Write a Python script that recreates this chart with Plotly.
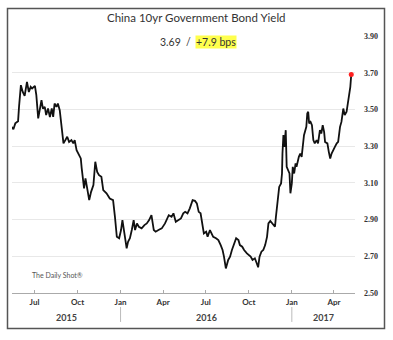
import plotly.graph_objects as go
import pandas as pd

# China 10-year government bond yield, %
dates = [
    "2015-05-13", "2015-05-17", "2015-05-21", "2015-05-25", "2015-05-27", "2015-05-29",
    "2015-06-02", "2015-06-06", "2015-06-10", "2015-06-15", "2015-06-19", "2015-06-23",
    "2015-06-26", "2015-07-02", "2015-07-05", "2015-07-09", "2015-07-13", "2015-07-16",
    "2015-07-19", "2015-07-23", "2015-07-26", "2015-07-30", "2015-08-03", "2015-08-07",
    "2015-08-10", "2015-08-13", "2015-08-17", "2015-08-20", "2015-08-24", "2015-08-29",
    "2015-09-01", "2015-09-05", "2015-09-09", "2015-09-13", "2015-09-18", "2015-09-22",
    "2015-09-25", "2015-09-29", "2015-10-04", "2015-10-08", "2015-10-10", "2015-10-15",
    "2015-10-18", "2015-10-22", "2015-10-26", "2015-10-30", "2015-11-04", "2015-11-08",
    "2015-11-12", "2015-11-16", "2015-11-21", "2015-11-25", "2015-12-02", "2015-12-09",
    "2015-12-16", "2015-12-20", "2015-12-24", "2015-12-29", "2016-01-02", "2016-01-05",
    "2016-01-09", "2016-01-14", "2016-01-17", "2016-01-21", "2016-01-25", "2016-01-29",
    "2016-02-01", "2016-02-05", "2016-02-09", "2016-02-15", "2016-02-21", "2016-02-26",
    "2016-03-02", "2016-03-07", "2016-03-12", "2016-03-16", "2016-03-22", "2016-03-29",
    "2016-04-05", "2016-04-08", "2016-04-13", "2016-04-19", "2016-04-23", "2016-04-28",
    "2016-05-03", "2016-05-09", "2016-05-14", "2016-05-18", "2016-05-23", "2016-05-28",
    "2016-06-03", "2016-06-08", "2016-06-12", "2016-06-16", "2016-06-20", "2016-06-23",
    "2016-06-27", "2016-07-02", "2016-07-05", "2016-07-10", "2016-07-14", "2016-07-17",
    "2016-07-23", "2016-07-28", "2016-08-02", "2016-08-06", "2016-08-09", "2016-08-13",
    "2016-08-18", "2016-08-22", "2016-08-26", "2016-08-31", "2016-09-04", "2016-09-09",
    "2016-09-12", "2016-09-17", "2016-09-21", "2016-09-27", "2016-10-01", "2016-10-05",
    "2016-10-09", "2016-10-14", "2016-10-18", "2016-10-21", "2016-10-24", "2016-10-28",
    "2016-11-01", "2016-11-05", "2016-11-09", "2016-11-12", "2016-11-16", "2016-11-22",
    "2016-11-26", "2016-11-28", "2016-11-30", "2016-12-03", "2016-12-05", "2016-12-09",
    "2016-12-11", "2016-12-12", "2016-12-14", "2016-12-16", "2016-12-19", "2016-12-21",
    "2016-12-24", "2016-12-27", "2016-12-29", "2017-01-01", "2017-01-03", "2017-01-06",
    "2017-01-09", "2017-01-11", "2017-01-16", "2017-01-19", "2017-01-22", "2017-01-25",
    "2017-01-27", "2017-02-01", "2017-02-03", "2017-02-05", "2017-02-07", "2017-02-10",
    "2017-02-13", "2017-02-16", "2017-02-19", "2017-02-23", "2017-02-26", "2017-03-02",
    "2017-03-05", "2017-03-08", "2017-03-11", "2017-03-13", "2017-03-18", "2017-03-21",
    "2017-03-24", "2017-03-27", "2017-03-31", "2017-04-03", "2017-04-07", "2017-04-10",
    "2017-04-14", "2017-04-17", "2017-04-21", "2017-04-24", "2017-04-28", "2017-05-01",
    "2017-05-03", "2017-05-06", "2017-05-08",
]
yields = [
    3.405, 3.392, 3.424, 3.432, 3.436, 3.514,
    3.632, 3.595, 3.574, 3.650, 3.595, 3.623,
    3.614, 3.628, 3.578, 3.451, 3.514, 3.550,
    3.505, 3.514, 3.469, 3.505, 3.459, 3.505,
    3.459, 3.532, 3.514, 3.532, 3.496, 3.396,
    3.315, 3.333, 3.351, 3.323, 3.333, 3.315,
    3.333, 3.278, 3.251, 3.233, 3.179, 3.070,
    3.124, 3.070, 3.006, 3.051, 3.088, 3.215,
    3.160, 3.142, 3.133, 3.061, 3.043, 3.015,
    3.006, 2.915, 2.806, 2.798, 2.843, 2.897,
    2.816, 2.743, 2.779, 2.798, 2.843, 2.897,
    2.843, 2.879, 2.861, 2.852, 2.870, 2.879,
    2.897, 2.924, 2.843, 2.834, 2.843, 2.852,
    2.879, 2.897, 2.924, 2.915, 2.934, 2.888,
    2.897, 2.906, 2.934, 2.942, 2.934, 2.961,
    3.006, 3.002, 2.988, 2.942, 2.934, 2.879,
    2.825, 2.834, 2.806, 2.843, 2.825, 2.806,
    2.798, 2.788, 2.761, 2.734, 2.698, 2.634,
    2.680, 2.698, 2.734, 2.770, 2.798, 2.788,
    2.761, 2.752, 2.734, 2.716, 2.707, 2.698,
    2.680, 2.689, 2.662, 2.640, 2.698, 2.725,
    2.734, 2.761, 2.806, 2.879, 2.893, 2.870,
    2.861, 2.915, 2.970, 3.033, 3.078, 3.097,
    3.151, 3.260, 3.360, 3.296, 3.387, 3.187,
    3.169, 3.151, 3.043, 3.097, 3.187, 3.151,
    3.206, 3.187, 3.242, 3.260, 3.242, 3.323,
    3.360, 3.405, 3.478, 3.487, 3.424, 3.432,
    3.414, 3.333, 3.315, 3.333, 3.315, 3.387,
    3.369, 3.414, 3.378, 3.323, 3.315, 3.269,
    3.233, 3.260, 3.287, 3.296, 3.315, 3.323,
    3.405, 3.432, 3.505, 3.469, 3.487, 3.532,
    3.568, 3.623, 3.69,
]

title_text = "China 10yr Government Bond Yield"
last_value_text = "3.69"
change_text = "+7.9 bps"
source_text = "The Daily Shot®"
y_ticks = [2.5, 2.7, 2.9, 3.1, 3.3, 3.5, 3.7, 3.9]
years = ["2015", "2016", "2017"]
year_spans = [("2015-05-14", "2016-01-01"), ("2016-01-01", "2017-01-01"), ("2017-01-01", "2017-05-16")]
year_breaks = ["2016-01-01", "2017-01-01"]

# page geometry (pixels)
W, H = 393, 340
L, R, T, B = 12, 38, 35.5, 47
PW, PH = W - L - R, H - T - B


def px(x):
    return (x - L) / PW


def py(y):
    return (H - B - y) / PH


fig = go.Figure()
fig.add_trace(go.Scatter(
    x=dates, y=yields, mode="lines",
    line=dict(color="#111111", width=1.8),
    hoverinfo="skip", showlegend=False,
))
fig.add_trace(go.Scatter(
    x=[dates[-1]], y=[yields[-1]], mode="markers",
    marker=dict(color="#ff2020", size=5),
    hoverinfo="skip", showlegend=False,
))

shapes = []
# outer frame
shapes.append(dict(type="rect", xref="paper", yref="paper",
                   x0=px(7.5), x1=px(384.5), y0=py(328.5), y1=py(8),
                   line=dict(color="#555555", width=1.5), layer="above"))
# white gap in the top gridline behind the subtitle
shapes.append(dict(type="rect", xref="paper", yref="paper",
                   x0=px(145), x1=px(250), y0=py(38), y1=py(33),
                   fillcolor="white", line=dict(width=0), layer="above"))
# year separators
for d in year_breaks:
    shapes.append(dict(type="line", xref="x", yref="paper",
                       x0=d, x1=d, y0=py(307), y1=py(322),
                       line=dict(color="#bbbbbb", width=1)))

annotations = [
    dict(text=title_text, xref="paper", yref="paper", x=px(196.5), y=py(16.5),
         yanchor="middle", showarrow=False,
         font=dict(family="Lato", size=11.5, color="#333333")),
    dict(text=last_value_text + "  /", xref="paper", yref="paper", x=px(193), y=py(42),
         xanchor="right", yanchor="middle", showarrow=False,
         font=dict(family="Lato", size=10.5, color="#333333")),
    dict(text=change_text, xref="paper", yref="paper", x=px(195), y=py(42),
         xanchor="left", yanchor="middle", showarrow=False, bgcolor="#ffff4d", borderpad=0,
         font=dict(family="Lato", size=10.5, color="#333333")),
    dict(text=source_text, xref="paper", yref="paper", x=px(30), y=py(275),
         xanchor="left", yanchor="middle", showarrow=False,
         font=dict(family="Lato", size=7, color="#555555")),
]
for label, (a, b) in zip(years, year_spans):
    mid = pd.Timestamp(a) + (pd.Timestamp(b) - pd.Timestamp(a)) / 2
    annotations.append(dict(text="<b>" + label + "</b>", xref="x", yref="paper",
                            x=mid, y=py(318), yanchor="middle", showarrow=False,
                            font=dict(family="Lato", size=9, color="#444444")))

fig.update_layout(
    width=W, height=H,
    margin=dict(l=L, r=R, t=T, b=B, pad=0),
    paper_bgcolor="white", plot_bgcolor="white",
    shapes=shapes, annotations=annotations,
    xaxis=dict(
        range=["2015-05-14", "2017-05-16"],
        tick0="2015-07-01", dtick="M3", tickformat="%b",
        showgrid=False, zeroline=False,
        showline=True, linecolor="#aaaaaa", linewidth=1,
        ticks="inside", ticklen=3, tickcolor="#aaaaaa",
        ticklabelstandoff=1,
        tickfont=dict(family="Lato", size=8, color="#333333", weight="bold"),
    ),
    yaxis=dict(
        range=[2.5, 3.9], side="right",
        tickvals=y_ticks, ticktext=[f"{v:.2f}" for v in y_ticks],
        showgrid=True, gridcolor="#e8e8e8", gridwidth=1,
        zeroline=False, showline=False, ticks="",
        ticklabelstandoff=8,
        tickfont=dict(family="Liberation Serif", size=8, color="#333333", weight="bold"),
    ),
)

fig.write_html("out.html")
